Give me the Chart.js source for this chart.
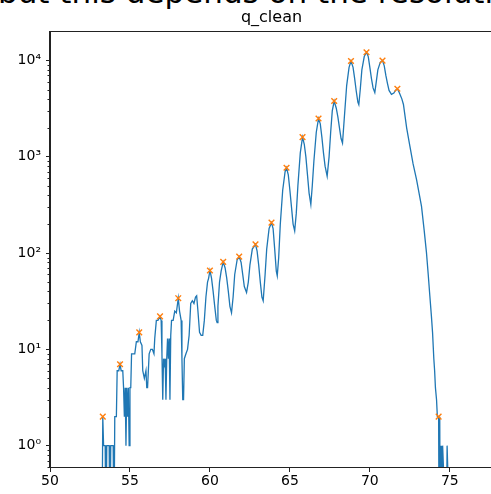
<!DOCTYPE html>
<html lang="en">

<head>
    <meta charset="UTF-8">
    <title>q_clean</title>
    <style>
        html, body { margin: 0; padding: 0; background: #fff; overflow: hidden; width: 491px; height: 494px; }
        #caption {
            position: absolute; left: -2px; top: -23px; white-space: nowrap;
            font-family: "DejaVu Sans", sans-serif; font-size: 31px; line-height: 1; color: #000;
        }
        #wrap { position: absolute; left: 0; top: 0; }
    </style>
</head>

<body>
    <div id="caption">but this depends on the resolution</div>
    <div id="wrap"><canvas id="myChart" width="500" height="494"></canvas></div>

    <script src="https://cdn.jsdelivr.net/npm/chart.js"></script>
    <script>
        // histogram (bin position, count)
        const binX = [
            53.0, 53.25, 53.3, 53.35, 53.45, 53.5, 53.55, 53.7, 53.75, 53.8, 53.95, 54.0,
            54.05, 54.15, 54.2, 54.3, 54.38, 54.45, 54.55, 54.6, 54.65, 54.7, 54.75, 54.8,
            54.85, 54.9, 54.95, 55.0, 55.05, 55.1, 55.2, 55.3, 55.4, 55.5, 55.58, 55.65,
            55.75, 55.8, 55.9, 56.0, 56.05, 56.1, 56.15, 56.2, 56.3, 56.4, 56.5, 56.55,
            56.65, 56.75, 56.88, 56.95, 57.0, 57.05, 57.1, 57.15, 57.2, 57.25, 57.3, 57.35,
            57.4, 57.45, 57.5, 57.55, 57.6, 57.7, 57.8, 57.9, 58.02, 58.1, 58.2, 58.25,
            58.3, 58.35, 58.4, 58.5, 58.6, 58.7, 58.8, 58.9, 59.0, 59.1, 59.17, 59.25,
            59.35, 59.45, 59.55, 59.65, 59.75, 59.85, 59.92, 60.0, 60.1, 60.2, 60.3, 60.4,
            60.45, 60.5, 60.6, 60.7, 60.83, 60.95, 61.05, 61.15, 61.25, 61.35, 61.45, 61.55,
            61.7, 61.83, 61.95, 62.05, 62.15, 62.29, 62.4, 62.5, 62.65, 62.85, 62.95, 63.05,
            63.15, 63.25, 63.33, 63.45, 63.55, 63.7, 63.85, 63.95, 64.05, 64.15, 64.21, 64.3,
            64.4, 64.55, 64.7, 64.79, 64.9, 65.0, 65.1, 65.2, 65.3, 65.4, 65.5, 65.65,
            65.79, 65.9, 66.0, 66.1, 66.2, 66.31, 66.4, 66.5, 66.65, 66.79, 66.9, 67.0,
            67.1, 67.2, 67.33, 67.45, 67.55, 67.65, 67.77, 67.9, 68.0, 68.1, 68.2, 68.29,
            68.4, 68.55, 68.7, 68.82, 68.95, 69.05, 69.15, 69.25, 69.31, 69.4, 69.5, 69.65,
            69.79, 69.9, 70.0, 70.1, 70.2, 70.31, 70.4, 70.5, 70.65, 70.79, 70.9, 71.0,
            71.1, 71.2, 71.35, 71.5, 71.6, 71.72, 71.85, 72.0, 72.1, 72.3, 72.5, 72.7,
            72.92, 73.1, 73.23, 73.4, 73.54, 73.65, 73.75, 73.85, 73.92, 74.0, 74.05, 74.1,
            74.17, 74.22, 74.3, 74.33, 74.37, 74.4, 74.45, 74.5, 74.55, 74.78, 74.8, 74.83,
            75.0
        ];
        const binCount = [
            0, 0, 2, 1, 1, 0, 1, 1, 0, 1, 1, 0,
            2, 2, 6, 6, 7, 6, 6, 4, 2, 4, 1, 4,
            2, 4, 1, 4, 4, 9, 9, 9, 12, 12, 15, 12,
            11, 6, 5, 6, 4, 4, 6, 9, 10, 10, 9, 13,
            20, 20, 22, 20, 9, 3, 8, 7, 8, 3, 8, 13,
            8, 13, 3, 14, 20, 20, 25, 24, 34, 25, 20, 8,
            3, 3, 8, 9, 10, 14, 30, 32, 30, 35, 36, 25,
            15, 14, 14, 20, 35, 50, 55, 66, 55, 40, 28, 20,
            19, 28, 50, 65, 81, 70, 55, 40, 28, 24, 35, 60,
            85, 92, 80, 60, 45, 39, 50, 75, 110, 123, 105, 75,
            50, 35, 32, 60, 110, 180, 207, 180, 110, 65, 58, 90,
            200, 450, 700, 770, 650, 450, 300, 200, 170, 260, 500, 1100,
            1600, 1350, 1000, 650, 420, 320, 500, 900, 1800, 2500, 2200, 1600,
            1100, 800, 630, 1000, 1800, 3000, 3800, 3200, 2600, 2000, 1550, 1390,
            2500, 5500, 8500, 9900, 8500, 6500, 4800, 3700, 3480, 5000, 8000, 11000,
            12200, 11000, 8500, 6500, 5200, 4650, 6000, 8000, 9600, 10000, 8800, 7000,
            5800, 4900, 4450, 4600, 4900, 5100, 4600, 4000, 3500, 2000, 1300, 850,
            580, 400, 306, 170, 101, 60, 36, 22, 15, 8, 6, 4,
            3, 2, 2, 0, 2, 0, 1, 0, 1, 0, 0, 1, 0,
            0
        ];

        // detected peaks (orange x)
        const peakX = [53.3, 54.38, 55.58, 56.88, 58.02, 60.0, 60.83, 61.83, 62.85, 63.85,
            64.79, 65.79, 66.79, 67.77, 68.82, 69.79, 70.79, 71.72, 74.3];
        const peakCount = [2, 7, 15, 22, 34, 66, 81, 92, 123, 207,
            770, 1600, 2500, 3800, 9900, 12200, 10000, 5100, 2];

        const xTicks = [50, 55, 60, 65, 70, 75];
        const yTicks = [1, 10, 100, 1000, 10000];
        const yTickLabels = ['10⁰', '10¹', '10²', '10³', '10⁴'];

        // zero counts: drawn below the axis, like matplotlib clipping on a log axis
        const LOG_FLOOR = 0.1;

        const histPoints = binX.map((x, i) => ({ x: x, y: binCount[i] > 0 ? binCount[i] : LOG_FLOOR }));
        const peakPoints = peakX.map((x, i) => ({ x: x, y: peakCount[i] }));

        // spines + minor log ticks
        const frame = {
            id: 'frame',
            afterDraw(chart) {
                const a = chart.chartArea;
                const c = chart.ctx;
                const y = chart.scales.y;
                c.save();
                c.strokeStyle = '#222';
                c.lineWidth = 1;
                c.strokeRect(a.left - 0.5, a.top - 0.5, a.right - a.left + 1, a.bottom - a.top + 1);
                c.beginPath();
                for (let e = -1; e <= 4; e++) {
                    for (let m = 2; m <= 9; m++) {
                        const v = m * Math.pow(10, e);
                        if (v < y.min || v > y.max) continue;
                        const py = Math.round(y.getPixelForValue(v)) + 0.5;
                        c.moveTo(a.left - 2.5, py);
                        c.lineTo(a.left, py);
                    }
                }
                c.stroke();
                c.restore();
            }
        };

        const ctx = document.getElementById('myChart');
        const chart = new Chart(ctx, {
            type: 'line',
            data: {
                datasets: [{
                    type: 'scatter',
                    data: peakPoints,
                    pointStyle: 'crossRot',
                    pointRadius: 4,
                    pointBorderWidth: 1.4,
                    borderColor: '#ff7f0e',
                    backgroundColor: '#ff7f0e'
                }, {
                    data: histPoints,
                    borderColor: '#1f77b4',
                    borderWidth: 1.3,
                    pointRadius: 0,
                    tension: 0,
                    fill: false
                }]
            },
            options: {
                responsive: false,
                animation: false,
                devicePixelRatio: 1,
                layout: { padding: { left: 0, right: 7, top: 0, bottom: 0 } },
                plugins: {
                    legend: { display: false },
                    tooltip: { enabled: false },
                    title: {
                        display: true,
                        text: 'q_clean',
                        fullSize: false,
                        color: '#000',
                        font: { family: 'DejaVu Sans', size: 16, weight: 'normal', lineHeight: 1.2 },
                        padding: { top: 8, bottom: 4.8 }
                    }
                },
                scales: {
                    x: {
                        type: 'linear',
                        min: 50,
                        max: 77.7,
                        afterBuildTicks: (axis) => { axis.ticks = xTicks.map(v => ({ value: v })); },
                        afterFit: (axis) => { axis.height = 27; },
                        grid: { drawOnChartArea: false, tickLength: 5, color: '#222' },
                        border: { display: true, color: '#222' },
                        ticks: { color: '#000', padding: 1, maxRotation: 0, font: { family: 'DejaVu Sans', size: 14 } }
                    },
                    y: {
                        type: 'logarithmic',
                        min: 0.616,
                        max: 19800,
                        afterBuildTicks: (axis) => { axis.ticks = yTicks.map(v => ({ value: v })); },
                        afterFit: (axis) => { axis.width = 50; },
                        grid: { drawOnChartArea: false, tickLength: 4, color: '#222' },
                        border: { display: true, color: '#222' },
                        ticks: {
                            color: '#000',
                            padding: 5,
                            font: { family: 'DejaVu Sans', size: 14 },
                            callback: (v) => {
                                const i = yTicks.indexOf(v);
                                return i >= 0 ? yTickLabels[i] : '';
                            }
                        }
                    }
                }
            },
            plugins: [frame]
        });
    </script>
</body>

</html>
